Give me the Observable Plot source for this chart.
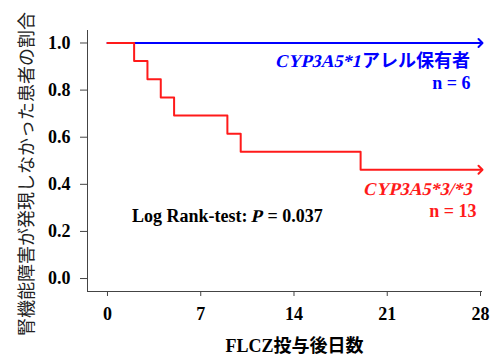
<!DOCTYPE html>
<html>
<head>
<meta charset="utf-8">
<script src="https://cdn.jsdelivr.net/npm/d3@7"></script>
<script src="https://cdn.jsdelivr.net/npm/@observablehq/plot@0.6"></script>
<style>
  html, body { margin: 0; padding: 0; background: #fff; }
</style>
</head>
<body>
<div id="chart"></div>
<script>
// Kaplan–Meier data
const days33 = [0, 2, 3, 4, 5, 9, 10, 19, 28];
const surv33 = [1.0, 0.923, 0.846, 0.769, 0.692, 0.615, 0.538, 0.462, 0.462];
const days1 = [0, 28];
const surv1 = [1.0, 1.0];

const xTicks = [0, 7, 14, 21, 28];
const yTicks = [0.0, 0.2, 0.4, 0.6, 0.8, 1.0];
const xDomain = [-1.5, 28.15];
const yDomain = [-0.055, 1.053];

const n1 = "n = 6";
const n33 = "n = 13";
const xLabel = "FLCZ投与後日数";
const yLabel = "腎機能障害が発現しなかった患者の割合";
const label1Parts = [{t: "CYP3A5*1", italic: true}, {t: "アレル保有者", cjk: true}];
const label33Parts = [{t: "CYP3A5*3/*3", italic: true}];
const pParts = [{t: "Log Rank-test:\u00a0"}, {t: "P", italic: true}, {t: "\u00a0= 0.037"}];

const blue = "#0000ff";
const red = "#ff1a1a";

const line1 = days1.map((d, i) => ({day: d, s: surv1[i]}));
const line33 = days33.map((d, i) => ({day: d, s: surv33[i]}));

const chart = Plot.plot({
  width: 498,
  height: 358,
  marginLeft: 87,
  marginRight: 16,
  marginTop: 30,
  marginBottom: 67,
  style: {fontFamily: "'Liberation Serif', 'Noto Sans CJK JP', serif", fontSize: "18px", fontWeight: "bold", color: "#000", background: "#fff"},
  x: {domain: xDomain},
  y: {domain: yDomain},
  marks: [
    Plot.ruleX([xDomain[0]], {stroke: "#444", strokeWidth: 1}),
    Plot.ruleY([yDomain[0]], {stroke: "#444", strokeWidth: 1}),
    Plot.axisY(yTicks, {tickSize: 7, tickPadding: 10, tickFormat: d3.format(".1f"), stroke: "#444", label: null}),
    Plot.axisX(xTicks, {tickSize: 5, tickPadding: 11, stroke: "#444", label: null}),
    Plot.line(line1, {x: "day", y: "s", stroke: blue, strokeWidth: 2, markerEnd: "arrow"}),
    Plot.line(line33, {x: "day", y: "s", stroke: red, strokeWidth: 2, curve: "step-after", markerEnd: "arrow"}),
    Plot.text([n1], {x: 28, y: 1.0, text: d => d, textAnchor: "end", dx: -10, dy: 40.5, fill: blue}),
    Plot.text([n33], {x: 28, y: surv33[surv33.length - 1], text: d => d, textAnchor: "end", dx: -4, dy: 42, fill: red}),
    Plot.text([xLabel], {frameAnchor: "bottom", text: d => d, dx: 9.5, dy: 60.5, fill: "#000"})
  ]
});

document.getElementById("chart").appendChild(chart);
const sx = chart.scale("x"), sy = chart.scale("y");
const svg = d3.select(chart);

// y-axis title (rotated)
svg.append("text")
  .attr("transform", "translate(25,174) rotate(-90)")
  .attr("text-anchor", "middle")
  .attr("dominant-baseline", "central")
  .attr("font-family", "'Noto Sans CJK JP', sans-serif")
  .attr("font-weight", "normal")
  .attr("font-size", 18)
  .attr("fill", "#222")
  .text(yLabel);

// rich labels with slanted (italic) parts
function richLabel(parts, x, y, anchor, fill) {
  const g = svg.append("g").attr("transform", `translate(${x},${y})`).attr("fill", fill);
  const nodes = parts.map(p => {
    const t = g.append("text").attr("text-anchor", "start").attr("dy", "0.32em").text(p.t);
    if (p.cjk) t.attr("font-family", "'Noto Sans CJK JP', sans-serif");
    return {t, p, w: t.node().getComputedTextLength()};
  });
  const total = d3.sum(nodes, n => n.w);
  let cx = anchor === "end" ? -total : 0;
  for (const n of nodes) {
    n.t.attr("transform", `translate(${cx},0)` + (n.p.italic ? " skewX(-13)" : ""));
    cx += n.w;
  }
}
richLabel(label1Parts, sx.apply(28) - 10, sy.apply(1.0) + 18.5, "end", blue);
richLabel(label33Parts, sx.apply(28) - 7, sy.apply(surv33[surv33.length - 1]) + 20, "end", red);
richLabel(pParts, sx.apply(0) + 25, sy.apply(0) - 62, "start", "#000");
</script>
</body>
</html>
